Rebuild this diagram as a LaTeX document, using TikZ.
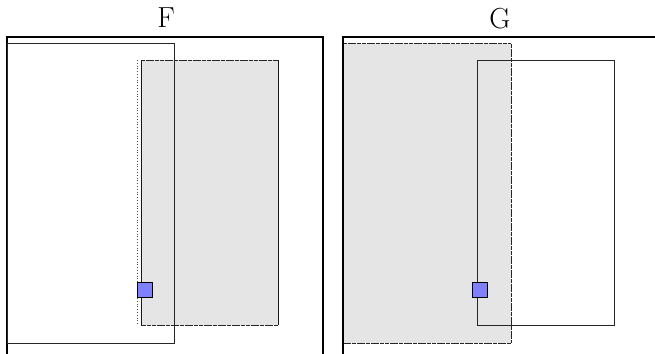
\documentclass[tikz,border=0pt]{standalone}
\usepackage{fontspec}
\begin{document}
\begin{tikzpicture}[x=1pt,y=-1pt,
  frame/.style={line width=2.2pt,black},
  thinbox/.style={line width=1pt,black!85},
  grayfill/.style={fill=black!10},
  edge/.style={line width=1pt,black!90},
  tickedge/.style={line width=1pt,black!85,dash pattern=on 4pt off 0.7pt},
  dotedge/.style={line width=0.8pt,black!70,dotted},
  marker/.style={fill=blue!50,draw=black,line width=1pt},
  lbl/.style={font=\fontsize{29}{33}\selectfont,inner sep=0pt}]
\useasboundingbox (0,0) rectangle (655,353);
\clip (0,0) rectangle (655,353);
% ---- panel F ----
\node[lbl] (F) at (166,18) {F};
\draw[frame] (7,370) -- (7,37) -- (323,37) -- (323,370);
\fill[grayfill] (141,60) rectangle (278,325);
\draw[dotedge] (137,60) -- (137,325);
\draw[edge] (141,325) -- (141,60);
\draw[tickedge] (141,60) -- (278,60);
\draw[edge] (278,60) -- (278,325);
\draw[tickedge] (278,325) -- (141,325);
\draw[thinbox] (7,44) rectangle (174,343);
\draw[marker] (137,282) rectangle (152,297);
% ---- panel G ----
\node[lbl] (G) at (500,19) {G};
\fill[grayfill] (343,44) rectangle (511,343);
\draw[tickedge] (343,44) -- (511,44);
\draw[tickedge] (511,44) -- (511,343);
\draw[tickedge] (511,343) -- (343,343);
\draw[frame] (343,370) -- (343,37) -- (670,37);
\draw[thinbox] (477,60) rectangle (614,325);
\draw[marker] (472,282) rectangle (487,297);
\end{tikzpicture}
\end{document}
